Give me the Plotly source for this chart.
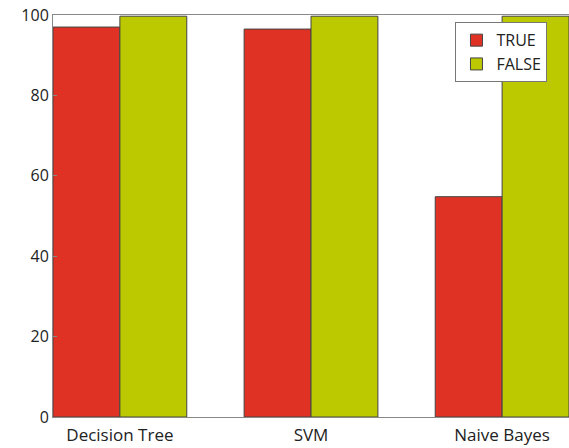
import plotly.graph_objects as go

categories = ["Decision Tree", "SVM", "Naive Bayes"]
true_vals = [97.0, 96.5, 54.8]
false_vals = [99.7, 99.7, 99.7]
y_ticks = [0, 20, 40, 60, 80, 100]

idx = list(range(len(categories)))
w = 0.35

fig = go.Figure()
fig.add_trace(go.Bar(x=idx, y=true_vals, name="TRUE", width=w, offset=0,
                     marker=dict(color="#df3224", line=dict(color="#444", width=1))))
fig.add_trace(go.Bar(x=idx, y=false_vals, name="FALSE", width=w, offset=w,
                     marker=dict(color="#bcc800", line=dict(color="#444", width=1))))

fig.update_layout(
    width=569, height=448,
    margin=dict(l=53, r=0, t=15, b=31),
    barmode="overlay",
    plot_bgcolor="white", paper_bgcolor="white",
    font=dict(family="Open Sans", size=15, color="#222"),
    legend=dict(x=0.78, y=0.982, xanchor="left", yanchor="top",
                bordercolor="#777", borderwidth=1, bgcolor="white",
                font=dict(size=16), tracegroupgap=2),
    showlegend=True,
)
fig.update_xaxes(range=[0, 2.7], tickvals=[i + w for i in idx], ticktext=categories,
                 showline=True, linecolor="#888", linewidth=1, mirror=True,
                 showgrid=False, ticks="outside", ticklen=3, tickcolor="rgba(0,0,0,0)",
                 zeroline=False, automargin=False, tickfont=dict(size=17))
fig.update_yaxes(range=[0, 100], tickvals=y_ticks, showline=True, linecolor="#888",
                 linewidth=1, showgrid=False, ticks="inside", ticklen=4, tickcolor="#888",
                 zeroline=False, automargin=False, tickfont=dict(size=16))

fig.write_html("out.html", post_script="document.body.style.margin='0';",
               config={"displayModeBar": False})
